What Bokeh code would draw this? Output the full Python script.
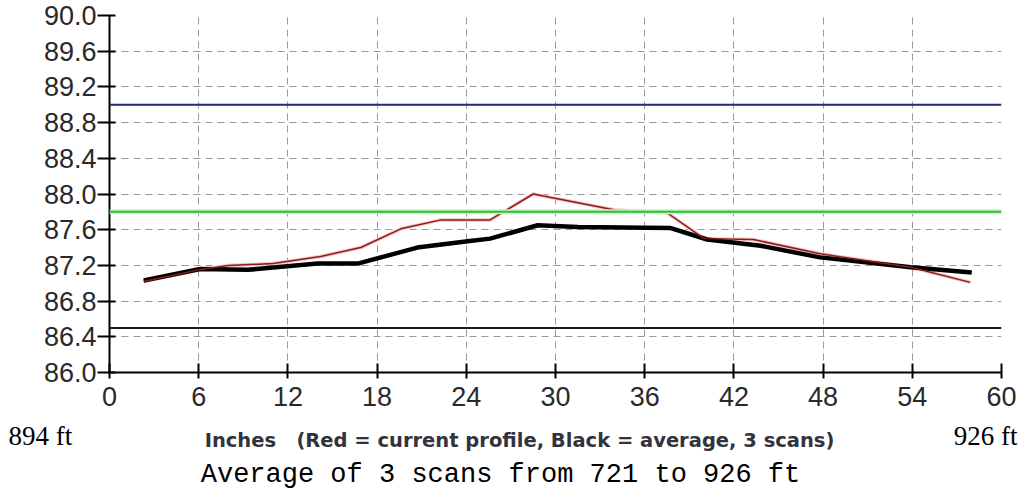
from bokeh.plotting import figure
from bokeh.layouts import column
from bokeh.models import Range1d, FixedTicker, NumeralTickFormatter, Span
from bokeh.core.properties import value
from bokeh.embed import file_html
from bokeh.resources import INLINE

# ---- data ----
red_x = [2.3, 6.0, 8.0, 11.0, 14.2, 16.9, 19.6, 22.3, 25.6, 28.5, 29.7, 34.0, 37.5, 40.0, 43.3, 47.8, 53.9, 57.9]
red_y = [87.02, 87.15, 87.20, 87.22, 87.30, 87.40, 87.61, 87.71, 87.71, 88.00, 87.96, 87.82, 87.79, 87.50, 87.49, 87.33, 87.18, 87.01]

avg_x = [2.3, 6.1, 9.3, 14.0, 16.7, 18.7, 20.7, 24.1, 25.6, 28.8, 31.5, 37.7, 40.2, 43.8, 47.8, 53.9, 58.0]
avg_y = [87.03, 87.16, 87.15, 87.22, 87.22, 87.31, 87.40, 87.47, 87.50, 87.65, 87.63, 87.62, 87.49, 87.42, 87.29, 87.18, 87.12]

upper_limit = 89.0
target_level = 87.8
lower_limit = 86.5

x_ticks = [0, 6, 12, 18, 24, 30, 36, 42, 48, 54, 60]
y_ticks = [86.0, 86.4, 86.8, 87.2, 87.6, 88.0, 88.4, 88.8, 89.2, 89.6, 90.0]

left_label = "894 ft"
right_label = "926 ft"
axis_caption = "Inches\u00a0\u00a0\u00a0(Red = current profile, Black = average, 3 scans)"
footer = "Average of 3 scans from 721 to 926 ft"

W = 1018

# ---- main chart ----
p = figure(width=W, height=412, output_backend="svg", toolbar_location=None,
           x_range=Range1d(x_ticks[0], x_ticks[-1]), y_range=Range1d(y_ticks[0], y_ticks[-1]),
           min_border_left=109, min_border_right=17, min_border_top=15, min_border_bottom=40)
p.frame_align = False
p.outline_line_color = None
p.background_fill_color = "white"
p.border_fill_color = "white"

for ax in (p.xaxis[0], p.yaxis[0]):
    ax.axis_line_color = "black"
    ax.axis_line_width = 2
    ax.major_tick_line_color = "black"
    ax.major_tick_line_width = 2
    ax.minor_tick_line_color = None
    ax.major_label_text_font = "Liberation Sans"
    ax.major_label_text_font_size = "27px"
    ax.major_label_text_color = "#2a2a2a"

p.xaxis.ticker = FixedTicker(ticks=x_ticks)
p.yaxis.ticker = FixedTicker(ticks=y_ticks)
p.yaxis.formatter = NumeralTickFormatter(format="0.0")
p.yaxis.major_tick_in = 6
p.yaxis.major_tick_out = 12
p.yaxis.major_label_standoff = 1
p.xaxis.major_tick_in = 9
p.xaxis.major_tick_out = 6
p.xaxis.major_label_standoff = 8

for g in (p.xgrid[0], p.ygrid[0]):
    g.grid_line_color = "#9a9a9a"
    g.grid_line_dash = "7 5"
    g.grid_line_width = 1

p.add_layout(Span(location=upper_limit, dimension="width", line_color="#1f2a70", line_width=2))
p.add_layout(Span(location=target_level, dimension="width", line_color="#c4f2c4", line_width=5))
p.add_layout(Span(location=target_level, dimension="width", line_color="#2ec02e", line_width=2))
p.add_layout(Span(location=lower_limit, dimension="width", line_color="#1a1a1a", line_width=2))

p.line(red_x, red_y, line_color="#f4c4c4", line_width=3.5)
p.line(avg_x, avg_y, line_color="black", line_width=4.5)
p.line(red_x, red_y, line_color="#8e1a1a", line_width=1.5)

# ---- caption strip below (pixel-like coordinates) ----
H2 = 76
q = figure(width=W, height=H2, output_backend="svg", toolbar_location=None,
           x_range=Range1d(0, W), y_range=Range1d(0, H2),
           min_border=0, x_axis_type=None, y_axis_type=None)
q.frame_align = False
q.outline_line_color = None
q.xgrid.visible = False
q.ygrid.visible = False
q.background_fill_color = "white"
q.border_fill_color = "white"

q.text(x=[8], y=[53], text=[left_label], text_font=value("Liberation Serif"),
       text_font_size="27px", text_color="black", text_align="left", text_baseline="alphabetic")
q.text(x=[1017], y=[53], text=[right_label], text_font=value("Liberation Serif"),
       text_font_size="27px", text_color="black", text_align="right", text_baseline="alphabetic")
q.text(x=[519], y=[48], text=[axis_caption], text_font=value("DejaVu Sans"), text_font_style="bold",
       text_font_size="19.5px", text_color="#333340", text_align="center", text_baseline="alphabetic")
q.text(x=[500], y=[14], text=[footer], text_font=value("Liberation Mono"),
       text_font_size="27px", text_color="black", text_align="center", text_baseline="alphabetic")

layout = column(p, q, spacing=0)
open("out.html", "w").write(file_html(layout, INLINE))
